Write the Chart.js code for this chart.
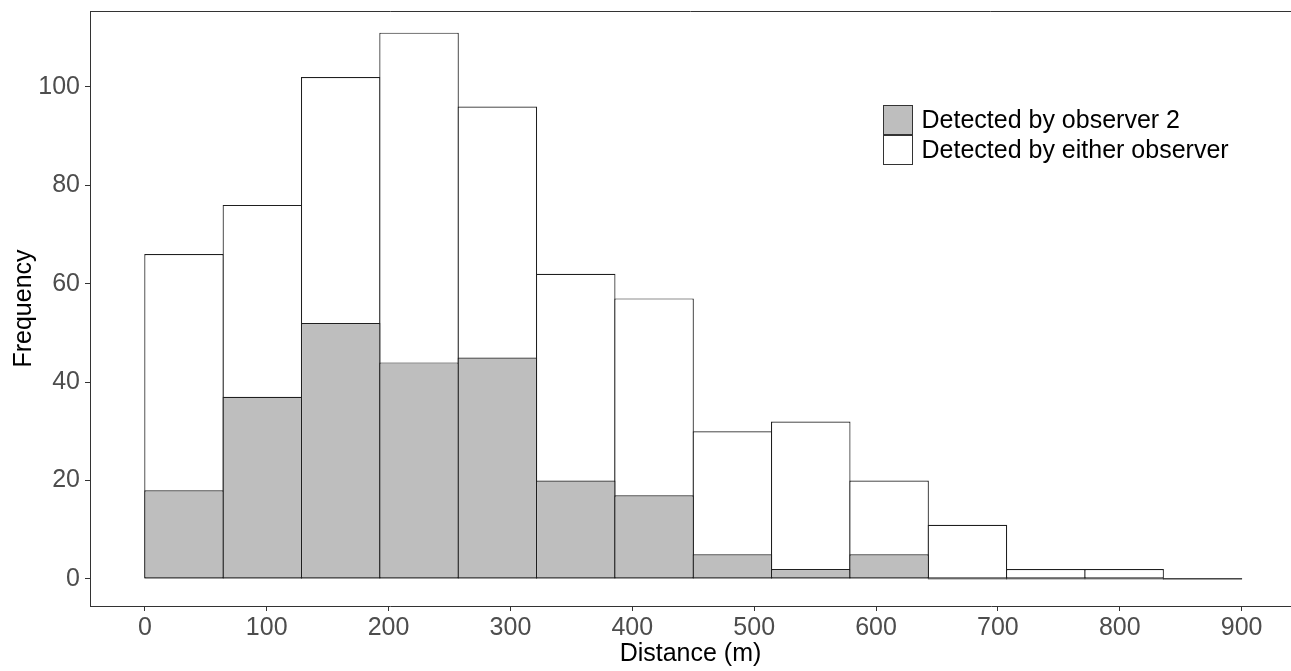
<!DOCTYPE html>
<html>
<head>
<meta charset="utf-8">
<script src="https://cdn.jsdelivr.net/npm/chart.js@4/dist/chart.umd.min.js"></script>
<style>
  body { margin: 0; background: #fff; }
  #wrap { width: 1291px; height: 671px; }
</style>
</head>
<body>
<div id="wrap"><canvas id="hist" width="1291" height="671"></canvas></div>
<script>
// Histogram bins (start of each bin, in metres) and bin width
const binWidth = 900 / 14;
const binStarts = [0, 64.29, 128.57, 192.86, 257.14, 321.43, 385.71, 450, 514.29, 578.57, 642.86, 707.14, 771.43, 835.71];

// Counts per bin
const observer2Counts = [18, 37, 52, 44, 45, 20, 17, 5, 2, 5, 0, 0, 0, 0];
const eitherCounts = [66, 76, 102, 111, 96, 62, 57, 30, 32, 20, 11, 2, 2, 0];

// Tick labels
const xTicks = [0, 100, 200, 300, 400, 500, 600, 700, 800, 900];
const yTicks = [0, 20, 40, 60, 80, 100];

const FONT = "'Liberation Sans', Arial, sans-serif";
const LINE = "#333333";
const BAR_LINE = "#1f1f1f";

function toPoints(counts) {
    return counts.map((c, i) => ({ x: binStarts[i] + binWidth / 2, y: c }));
}

// Top edge of the panel (left/bottom come from the axes; right edge is off-canvas)
const panelTop = {
    id: "panelTop",
    afterDraw(chart) {
        const a = chart.chartArea;
        const ctx = chart.ctx;
        ctx.save();
        ctx.strokeStyle = LINE;
        ctx.lineWidth = 1;
        ctx.beginPath();
        ctx.moveTo(a.left, Math.round(a.top) + 0.5);
        ctx.lineTo(a.right, Math.round(a.top) + 0.5);
        ctx.stroke();
        ctx.restore();
    }
};

// Legend placed inside the panel, top right
const insideLegend = {
    id: "insideLegend",
    afterDraw(chart) {
        const ctx = chart.ctx;
        const x = 883.5, y = 104.5, size = 29, step = 30.5;
        ctx.save();
        ctx.font = "25px " + FONT;
        ctx.textBaseline = "middle";
        ctx.textAlign = "left";
        chart.data.datasets.forEach((ds, i) => {
            const top = Math.round(y + i * step) + 0.5;
            ctx.fillStyle = ds.backgroundColor;
            ctx.fillRect(x, top, size, size);
            ctx.strokeStyle = LINE;
            ctx.lineWidth = 1;
            ctx.strokeRect(x, top, size, size);
            ctx.fillStyle = "#000";
            ctx.fillText(ds.label, x + size + 9, top + size / 2 + 1);
        });
        ctx.restore();
    }
};

const ctx = document.getElementById("hist").getContext("2d");

const histChart = new Chart(ctx, {
    type: "bar",
    data: {
        datasets: [{
            label: "Detected by observer 2",
            data: toPoints(observer2Counts),
            backgroundColor: "#BEBEBE",
            borderColor: BAR_LINE,
            borderWidth: 1.2,
            borderSkipped: false,
            grouped: false,
            minBarLength: 1.2,
            barPercentage: 1.015,
            categoryPercentage: 1
        }, {
            label: "Detected by either observer",
            data: toPoints(eitherCounts),
            backgroundColor: "#FFFFFF",
            borderColor: BAR_LINE,
            borderWidth: 1.2,
            borderSkipped: false,
            grouped: false,
            minBarLength: 1.2,
            barPercentage: 1.015,
            categoryPercentage: 1
        }]
    },
    options: {
        responsive: false,
        animation: false,
        layout: { padding: { top: 11, left: 0, right: 0, bottom: 0 } },
        plugins: {
            legend: { display: false },
            tooltip: { enabled: false }
        },
        scales: {
            x: {
                type: "linear",
                offset: false,
                min: -45,
                max: 940.5,
                afterBuildTicks(scale) { scale.ticks = xTicks.map(v => ({ value: v })); },
                afterFit(scale) { scale.height = 65; scale.paddingLeft = 0; scale.paddingRight = 0; },
                grid: { offset: false, drawOnChartArea: false, drawTicks: true, tickLength: 5, tickColor: LINE },
                border: { display: true, color: LINE, width: 1 },
                ticks: { color: "#4D4D4D", font: { family: FONT, size: 25 }, padding: 2, maxRotation: 0 },
                title: { display: true, text: "Distance (m)", color: "#000", font: { family: FONT, size: 25 }, padding: { top: 0, bottom: 2 } }
            },
            y: {
                type: "linear",
                min: -5.5,
                max: 115.4,
                afterBuildTicks(scale) { scale.ticks = yTicks.map(v => ({ value: v })); },
                afterFit(scale) { scale.width = 90; scale.paddingTop = 0; scale.paddingBottom = 0; },
                grid: { drawOnChartArea: false, drawTicks: true, tickLength: 5, tickColor: LINE },
                border: { display: true, color: LINE, width: 1 },
                ticks: { color: "#4D4D4D", font: { family: FONT, size: 25 }, padding: 5 },
                title: { display: true, text: "Frequency", color: "#000", font: { family: FONT, size: 25 }, padding: { top: 9, bottom: 0 } }
            }
        }
    },
    plugins: [panelTop, insideLegend]
});
</script>
</body>
</html>
